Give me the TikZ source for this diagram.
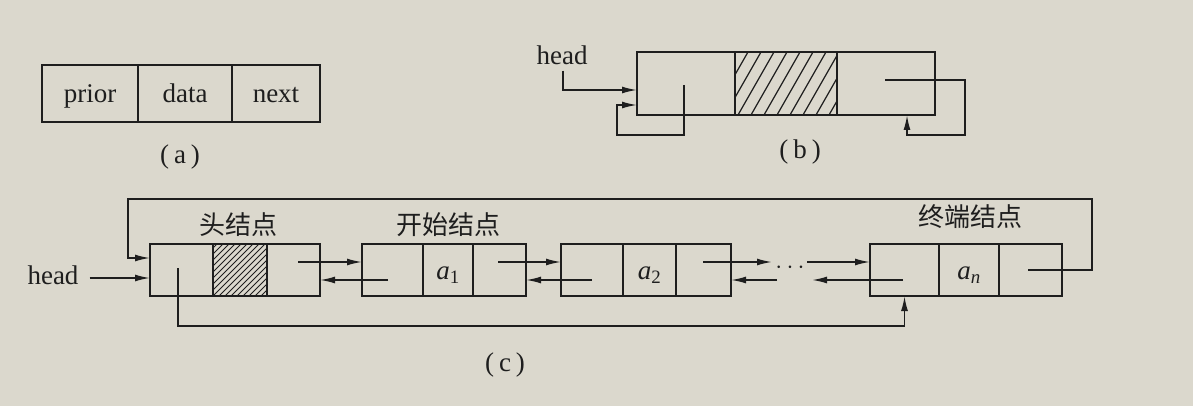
\documentclass[tikz,border=0pt]{standalone}
\usepackage{fontspec}
\setmainfont{Liberation Serif}
\newfontfamily\cjk{Noto Sans CJK SC}
\usetikzlibrary{arrows.meta,calc}
\definecolor{paper}{RGB}{219,216,205}
\definecolor{ink}{RGB}{30,30,30}
\tikzset{
  cell/.style={draw=ink, line width=2pt, inner sep=0pt, outer sep=0pt,
    text height=20pt, text depth=1pt,
    font=\fontsize{27}{30}\selectfont, text=ink},
  link/.style={draw=ink, line width=1.7pt, -{Latex[length=15pt,width=7pt]}},
  hatch/.style={draw=ink, line width=1.2pt},
  lbl/.style={inner sep=0pt, font=\fontsize{27}{30}\selectfont, text=ink},
  cnlbl/.style={inner sep=0pt, font=\cjk\fontsize{26}{28}\selectfont, text=ink},
}
\newcommand{\sub}[1]{\textsubscript{#1}}
\begin{document}
\begin{tikzpicture}[x=1pt,y=-1pt]
\fill[paper] (0,0) rectangle (1193,406);
\useasboundingbox (0,0) rectangle (1193,406);

% ---------------- (a) ----------------
\node[cell, minimum width=96pt, minimum height=57pt] (pa) at (90,93.5) {prior};
\node[cell, minimum width=94pt, minimum height=57pt] (da) at (185,93.5) {data};
\node[cell, minimum width=88pt, minimum height=57pt] (na) at (276,93.5) {next};
\node[lbl] (capa) at (180,157) {(\hspace{5pt}a\hspace{5pt})};

% ---------------- (b) ----------------
\node[cell, minimum width=98pt, minimum height=63pt] (b1) at (686,83.5) {};
\node[cell, minimum width=102pt, minimum height=63pt] (b2) at (786,83.5) {};
\node[cell, minimum width=98pt, minimum height=63pt] (b3) at (886,83.5) {};
\begin{scope}
  \clip (b2.south west) rectangle (b2.north east);
  \foreach \k in {0,...,12}
    \draw[hatch] ($(b2.south west)+(\k*13-36,0)$) -- ++(40,-70);
\end{scope}
\node[lbl] (headb) at (562,55) {head};
\coordinate (bl) at (617,135);
\coordinate (br) at (965,135);
\draw[link] ($(headb.south)+(1,6)$) |- ([yshift=-6.5pt]b1.west);
\draw[link] ([xshift=-2pt,yshift=-1.5pt]b1.center) |- (bl) |- ([yshift=-21.5pt]b1.west);
\draw[link] ([xshift=-1pt,yshift=3.5pt]b3.center) -| (br) -| ([xshift=21pt]b3.south);
\node[lbl] (capb) at (800,152) {(\hspace{5pt}b\hspace{5pt})};

% ---------------- (c) ----------------
% head node
\node[cell, minimum width=63pt, minimum height=52pt] (hp) at (181.5,270) {};
\node[cell, minimum width=54pt, minimum height=52pt] (hd) at (240,270) {};
\node[cell, minimum width=53pt, minimum height=52pt] (hn) at (293.5,270) {};
\begin{scope}
  \clip (hd.south west) rectangle (hd.north east);
  \foreach \k in {0,...,18}
    \draw[line width=1pt, draw=ink] ($(hd.south west)+(\k*6-54,0)$) -- ++(56,-56);
\end{scope}
% a1
\node[cell, minimum width=61pt, minimum height=52pt] (p1) at (392.5,270) {};
\node[cell, minimum width=50pt, minimum height=52pt] (d1) at (448,270) {\textit{a}\sub{1}};
\node[cell, minimum width=53pt, minimum height=52pt] (n1) at (499.5,270) {};
% a2
\node[cell, minimum width=62pt, minimum height=52pt] (p2) at (592,270) {};
\node[cell, minimum width=53pt, minimum height=52pt] (d2) at (649.5,270) {\textit{a}\sub{2}};
\node[cell, minimum width=55pt, minimum height=52pt] (n2) at (703.5,270) {};
% an
\node[cell, minimum width=69pt, minimum height=52pt] (pn) at (904.5,270) {};
\node[cell, minimum width=60pt, minimum height=52pt] (dn) at (969,270) {\textit{a}\sub{\textit{n}}};
\node[cell, minimum width=63pt, minimum height=52pt] (nn) at (1030.5,270) {};

% labels
\node[cnlbl] (l1) at (238,225) {头结点};
\node[cnlbl] (l2) at (448,225) {开始结点};
\node[cnlbl] (l3) at (970,217) {终端结点};
\node[lbl] (dots) at (790,268) {$\cdots$};
\node[lbl] (headc) at (53,275) {head};
\node[lbl] (capc) at (505,365) {(\hspace{5pt}c\hspace{5pt})};

% free ends
\coordinate (m1) at (772,262);
\coordinate (m2) at (807,262);
\coordinate (m3) at (777,280);
\coordinate (m4) at (812,280);
\coordinate (tr) at (1092,199);
\coordinate (tl) at (128,199);

% next links
\draw[link] ([xshift=4.5pt,yshift=8pt]hn.center) -- ([yshift=8pt]p1.west);
\draw[link] ([xshift=-1.5pt,yshift=8pt]n1.center) -- ([yshift=8pt]p2.west);
\draw[link] ([xshift=-0.5pt,yshift=8pt]n2.center) -- (m1);
\draw[link] (m2) -- ([yshift=8pt]pn.west);
% prior links
\draw[link] ([xshift=-4.5pt,yshift=-10pt]p1.center) -- ([yshift=-10pt]hn.east);
\draw[link] ([yshift=-10pt]p2.center) -- ([yshift=-10pt]n1.east);
\draw[link] (m3) -- ([yshift=-10pt]n2.east);
\draw[link] ([xshift=-1.5pt,yshift=-10pt]pn.center) -- (m4);
% circular links
\draw[link] ([xshift=-2.5pt]nn.center) -| (tr) -- (tl) |- ([yshift=12pt]hp.west);
\draw[link] ([xshift=-3.5pt,yshift=2pt]hp.center) |- ($(pn.south)+(0,30)$) -- (pn.south);
% head pointer
\draw[link] ($(headc.east)+(11,3)$) -- ([yshift=-8pt]hp.west);
\end{tikzpicture}
\end{document}
